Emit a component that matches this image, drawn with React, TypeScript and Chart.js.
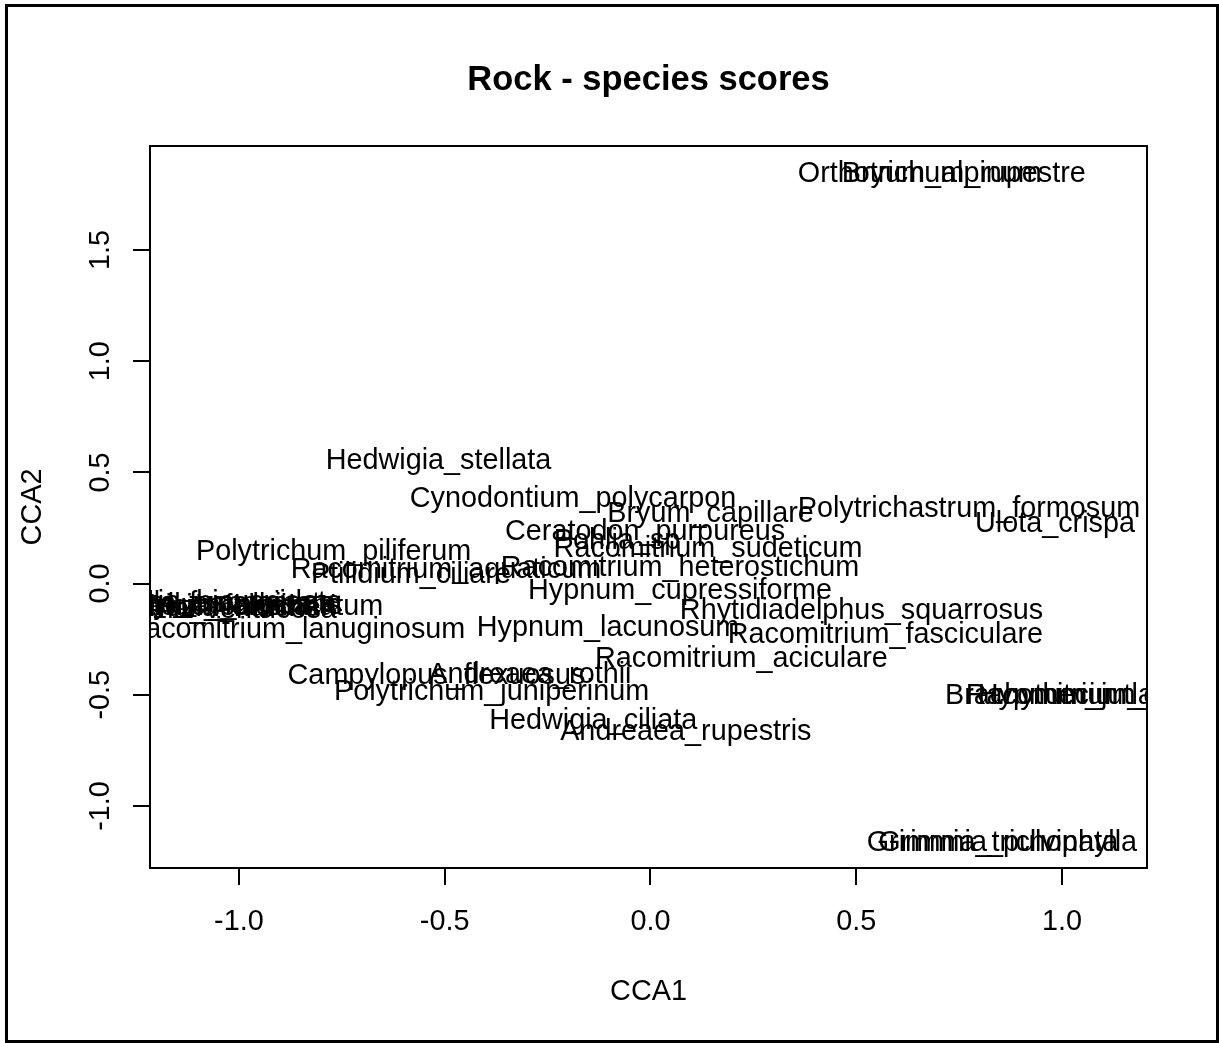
import React, { useEffect, useRef } from "react";
import { Chart, registerables } from "chart.js";

Chart.register(...registerables);

const chartTitle = "Rock - species scores";
const xAxisTitle = "CCA1";
const yAxisTitle = "CCA2";

const speciesNames = [
  "Orthotrichum_rupestre",
  "Bryum_alpinum",
  "Hedwigia_stellata",
  "Cynodontium_polycarpon",
  "Bryum_capillare",
  "Polytrichastrum_formosum",
  "Ulota_crispa",
  "Ceratodon_purpureus",
  "Pohlia_sp",
  "Racomitrium_sudeticum",
  "Polytrichum_piliferum",
  "Racomitrium_heterostichum",
  "Racomitrium_aquaticum",
  "Ptilidium_ciliare",
  "Hypnum_cupressiforme",
  "Rhytidiadelphus_squarrosus",
  "Hypnum_lacunosum",
  "Racomitrium_fasciculare",
  "Racomitrium_lanuginosum",
  "Racomitrium_aciculare",
  "Campylopus_flexuosus",
  "Andreaea_rothii",
  "Polytrichum_juniperinum",
  "Hedwigia_ciliata",
  "Andreaea_rupestris",
  "Brachythecium_rutabulum",
  "Hypnum_jutlandicum",
  "Racomitrium_ericoides",
  "Grimmia_trichophylla",
  "Grimmia_pulvinata",
  "Dicranum_fuscescens",
  "Barbilophozia_hatcheri",
  "Diplophyllum_albicans",
  "Lophozia_ventricosa",
  "Marsupella_emarginata",
  "Kiaeria_falcata",
  "Cephalozia_bicuspidata",
  "Gymnomitrion_concinnatum",
];

const cca1 = [
  0.708, 0.708, -0.515, -0.188, 0.146, 0.774, 0.983, -0.013, -0.081, 0.14,
  -0.77, 0.072, -0.497, -0.582, 0.072, 0.513, -0.103, 0.571, -0.864, 0.221,
  -0.52, -0.293, -0.386, -0.139, 0.086, 1.122, 1.122, 1.122, 0.854, 0.845,
  -1.115, -1.119, -1.097, -1.083, -1.129, -1.06, -1.121, -1.085,
];

const cca2 = [
  1.851, 1.851, 0.56, 0.389, 0.322, 0.344, 0.277, 0.241, 0.2, 0.165,
  0.151, 0.079, 0.07, 0.048, -0.024, -0.114, -0.191, -0.222, -0.2, -0.33,
  -0.406, -0.402, -0.478, -0.609, -0.658, -0.496, -0.496, -0.496, -1.158, -1.158,
  -0.085, -0.1, -0.09, -0.11, -0.085, -0.095, -0.08, -0.095,
];

const xTickValues = [-1, -0.5, 0, 0.5, 1];
const xTickLabels = ["-1.0", "-0.5", "0.0", "0.5", "1.0"];
const yTickValues = [-1, -0.5, 0, 0.5, 1, 1.5];
const yTickLabels = ["-1.0", "-0.5", "0.0", "0.5", "1.0", "1.5"];
const xLimits = [-1.216, 1.2066];
const yLimits = [-1.2788, 1.9676];

const FONT = '"Liberation Sans", Arial, Helvetica, sans-serif';
const W = 1219;
const H = 1043;
const TEXT_DY = 2;

const rPlot = {
  id: "rPlot",
  beforeDraw(chart: any) {
    const ctx = chart.ctx;
    ctx.save();
    ctx.fillStyle = "#ffffff";
    ctx.fillRect(0, 0, chart.width, chart.height);
    ctx.restore();
  },
  afterDatasetsDraw(chart: any) {
    const ctx = chart.ctx;
    const area = chart.chartArea;
    const meta = chart.getDatasetMeta(0);
    ctx.save();
    ctx.beginPath();
    ctx.rect(area.left, area.top, area.right - area.left, area.bottom - area.top);
    ctx.clip();
    ctx.fillStyle = "#000000";
    ctx.font = `28.8px ${FONT}`;
    ctx.textAlign = "center";
    ctx.textBaseline = "middle";
    meta.data.forEach((pt: any, i: number) => {
      ctx.fillText(speciesNames[i], pt.x, pt.y + TEXT_DY);
    });
    ctx.restore();
  },
  afterDraw(chart: any) {
    const ctx = chart.ctx;
    const area = chart.chartArea;
    const xs = chart.scales.x;
    const ys = chart.scales.y;
    ctx.save();
    // outer frame
    ctx.strokeStyle = "#000000";
    ctx.lineWidth = 3;
    ctx.strokeRect(6.5, 5.5, 1211, 1036);
    // plot box
    ctx.lineWidth = 2;
    ctx.strokeRect(area.left, area.top, area.right - area.left, area.bottom - area.top);

    ctx.fillStyle = "#000000";
    ctx.font = `28.8px ${FONT}`;
    ctx.textAlign = "center";
    ctx.textBaseline = "middle";
    xTickValues.forEach((v, i) => {
      ctx.fillText(xTickLabels[i], xs.getPixelForValue(v), 920 + TEXT_DY);
    });
    yTickValues.forEach((v, i) => {
      ctx.save();
      ctx.translate(101, ys.getPixelForValue(v));
      ctx.rotate(-Math.PI / 2);
      ctx.fillText(yTickLabels[i], 0, 0);
      ctx.restore();
    });
    // axis titles
    const cx = (area.left + area.right) / 2;
    const cy = (area.top + area.bottom) / 2;
    ctx.fillText(xAxisTitle, cx, 990 + TEXT_DY);
    ctx.save();
    ctx.translate(33, cy);
    ctx.rotate(-Math.PI / 2);
    ctx.fillText(yAxisTitle, 0, 0);
    ctx.restore();
    // main title
    ctx.font = `bold 34.5px ${FONT}`;
    ctx.fillText(chartTitle, cx, 78 + TEXT_DY);
    ctx.restore();
  },
};

export default function App() {
  const ref = useRef<HTMLCanvasElement | null>(null);
  useEffect(() => {
    if (!ref.current) return;
    const chart = new Chart(ref.current, {
      type: "scatter",
      data: {
        datasets: [
          {
            data: cca1.map((x, i) => ({ x, y: cca2[i] })),
            pointRadius: 0,
            pointHoverRadius: 0,
            showLine: false,
          },
        ],
      },
      options: {
        responsive: false,
        animation: false,
        devicePixelRatio: 1,
        events: [],
        layout: { padding: { left: 0, right: 72, top: 146, bottom: 0 } },
        plugins: {
          legend: { display: false },
          tooltip: { enabled: false },
          title: { display: false },
        },
        scales: {
          x: {
            type: "linear",
            min: xLimits[0],
            max: xLimits[1],
            afterBuildTicks: (s: any) => {
              s.ticks = xTickValues.map((v) => ({ value: v }));
            },
            afterFit: (s: any) => {
              s.height = 175;
            },
            grid: {
              display: true,
              drawOnChartArea: false,
              drawTicks: true,
              tickLength: 17,
              color: "#000000",
              lineWidth: 2,
            },
            border: { display: true, color: "#000000", width: 2 },
            ticks: { display: false },
          },
          y: {
            type: "linear",
            min: yLimits[0],
            max: yLimits[1],
            afterBuildTicks: (s: any) => {
              s.ticks = yTickValues.map((v) => ({ value: v }));
            },
            afterFit: (s: any) => {
              s.width = 150;
            },
            grid: {
              display: true,
              drawOnChartArea: false,
              drawTicks: true,
              tickLength: 17,
              color: "#000000",
              lineWidth: 2,
            },
            border: { display: true, color: "#000000", width: 2 },
            ticks: { display: false },
          },
        },
      },
      plugins: [rPlot],
    } as any);
    return () => chart.destroy();
  }, []);
  return (
    <div style={{ position: "absolute", left: 0, top: 0, width: W, height: H }}>
      <canvas ref={ref} width={W} height={H} style={{ display: "block" }} />
    </div>
  );
}
